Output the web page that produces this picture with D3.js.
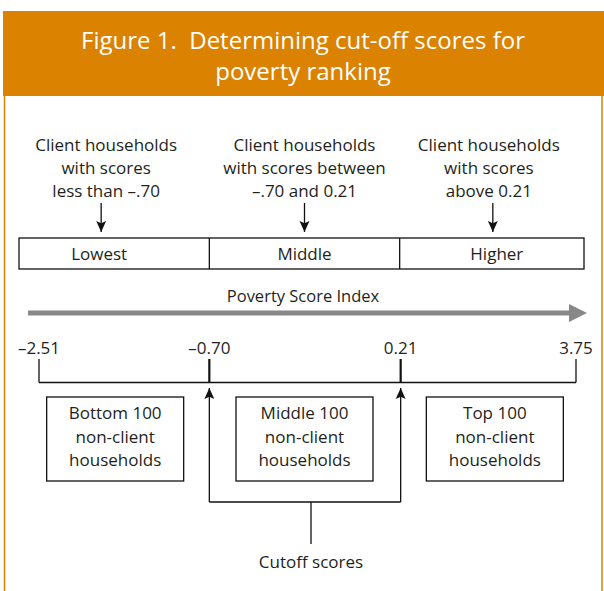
<!DOCTYPE html>
<html>
<head>
<meta charset="utf-8">
<script src="https://cdn.jsdelivr.net/npm/d3@7"></script>
<style>
  body { margin: 0; background: #fff; }
  svg text { font-family: "Open Sans", "Noto Sans", sans-serif; fill: #231f20; }
</style>
</head>
<body>
<div id="chart"></div>
<script>
// data
var titleLines = ["Figure 1.  Determining cut-off scores for", "poverty ranking"];
var categories = ["Lowest", "Middle", "Higher"];
var clientText = [
    ["Client households", "with scores", "less than \u2013.70"],
    ["Client households", "with scores between", "\u2013.70 and 0.21"],
    ["Client households", "with scores", "above 0.21"]
];
var cutoffs = [-2.51, -0.70, 0.21, 3.75];
var cutoffLabels = ["\u20132.51", "\u20130.70", "0.21", "3.75"];
var nonClientText = [
    ["Bottom 100", "non-client", "households"],
    ["Middle 100", "non-client", "households"],
    ["Top 100", "non-client", "households"]
];
var axisTitle = "Poverty Score Index";
var cutoffTitle = "Cutoff scores";

var width = 604, height = 591;
var orange = "#db8200";

var svg = d3.select("#chart")
    .append("svg")
    .attr("width", width)
    .attr("height", height);

// header band
svg.append("rect")
    .attr("x", 3).attr("y", 11)
    .attr("width", width - 3).attr("height", 85)
    .attr("fill", orange);

titleLines.forEach(function (t, i) {
    svg.append("text")
        .attr("x", 303)
        .attr("y", 49 + i * 31)
        .attr("text-anchor", "middle")
        .style("font-size", "24px")
        .style("white-space", "pre")
        .style("fill", "#fff")
        .text(t);
});

// frame sides
[4.5, 602].forEach(function (x) {
    svg.append("line")
        .attr("x1", x).attr("x2", x)
        .attr("y1", 96).attr("y2", height)
        .attr("stroke", orange)
        .attr("stroke-width", 1.5);
});

// band scale for the three groups
var band = d3.scaleBand()
    .domain(categories)
    .range([19, 590]);
function mid(c) { return band(c) + band.bandwidth() / 2; }

// score positions: ends inset, cutoffs on band borders
var x = d3.scaleLinear()
    .domain(cutoffs)
    .range([39, band("Middle"), band("Higher") + 1, 576]);

var defs = svg.append("defs");
defs.append("marker")
    .attr("id", "head")
    .attr("viewBox", "0 0 10 10")
    .attr("refX", 10).attr("refY", 5)
    .attr("markerWidth", 11).attr("markerHeight", 11)
    .attr("markerUnits", "userSpaceOnUse")
    .attr("orient", "auto")
    .append("path")
    .attr("d", "M0,0.5 L10,5 L0,9.5 L2,5 Z")
    .attr("fill", "#111");

// small nudges so the text sits where the original puts it
var textShift = [-8, 0, -6];
var arrowShift = [-13, 0, -2];

// client text + down arrows
categories.forEach(function (c, i) {
    clientText[i].forEach(function (t, j) {
        svg.append("text")
            .attr("x", mid(c) + textShift[i])
            .attr("y", 151 + j * 23)
            .attr("text-anchor", "middle")
            .style("font-size", "17px")
            .text(t);
    });
    svg.append("line")
        .attr("x1", mid(c) + arrowShift[i]).attr("x2", mid(c) + arrowShift[i])
        .attr("y1", 203).attr("y2", 232)
        .attr("stroke", "#111").attr("stroke-width", 1.3)
        .attr("marker-end", "url(#head)");
});

// category box
svg.append("rect")
    .attr("x", 19).attr("y", 238)
    .attr("width", 565).attr("height", 31)
    .attr("fill", "none").attr("stroke", "#111").attr("stroke-width", 1.3);

svg.selectAll(".divider")
    .data(categories.slice(1))
    .enter().append("line")
    .attr("x1", function (d) { return band(d); })
    .attr("x2", function (d) { return band(d); })
    .attr("y1", 238).attr("y2", 269)
    .attr("stroke", "#111").attr("stroke-width", 1.3);

svg.selectAll(".cat")
    .data(categories)
    .enter().append("text")
    .attr("x", function (d, i) { return mid(d) + [-15, 0, 2][i]; })
    .attr("y", 260)
    .attr("text-anchor", "middle")
    .style("font-size", "17px")
    .text(function (d) { return d; });

// poverty score index arrow
svg.append("text")
    .attr("x", 303).attr("y", 302)
    .attr("text-anchor", "middle")
    .style("font-size", "16.5px")
    .text(axisTitle);

svg.append("line")
    .attr("x1", 28).attr("x2", 571)
    .attr("y1", 313).attr("y2", 313)
    .attr("stroke", "#888").attr("stroke-width", 5);
svg.append("path")
    .attr("d", "M569,304 L587,313 L569,322 Z")
    .attr("fill", "#888");

// cutoff labels and bracket
svg.selectAll(".cut")
    .data(cutoffs)
    .enter().append("text")
    .attr("x", function (d) { return x(d); })
    .attr("y", 354)
    .attr("text-anchor", "middle")
    .style("font-size", "17px")
    .text(function (d, i) { return cutoffLabels[i]; });

svg.append("line")
    .attr("x1", x(cutoffs[0])).attr("x2", x(cutoffs[3]))
    .attr("y1", 382.5).attr("y2", 382.5)
    .attr("stroke", "#111").attr("stroke-width", 1.3);

svg.selectAll(".tick")
    .data(cutoffs)
    .enter().append("line")
    .attr("x1", function (d) { return x(d); })
    .attr("x2", function (d) { return x(d); })
    .attr("y1", 359).attr("y2", 382.5)
    .attr("stroke", "#111")
    .attr("stroke-width", function (d, i) { return (i == 0 || i == 3) ? 1.3 : 2.2; });

// non-client boxes
categories.forEach(function (c, i) {
    svg.append("rect")
        .attr("x", mid(c) - 68.5 + (i == 0 ? 1 : 0)).attr("y", 397)
        .attr("width", 137).attr("height", 84)
        .attr("fill", "none").attr("stroke", "#111").attr("stroke-width", 1.3);
    nonClientText[i].forEach(function (t, j) {
        svg.append("text")
            .attr("x", mid(c) + (i == 0 ? 1 : 0))
            .attr("y", 419 + j * 23.5)
            .attr("text-anchor", "middle")
            .style("font-size", "17px")
            .text(t);
    });
});

// cutoff arrows
var inner = cutoffs.slice(1, 3);
var cx = (x(inner[0]) + x(inner[1])) / 2 + 6;
inner.forEach(function (d) {
    svg.append("line")
        .attr("x1", x(d)).attr("x2", x(d))
        .attr("y1", 502).attr("y2", 388)
        .attr("stroke", "#111").attr("stroke-width", 1.3)
        .attr("marker-end", "url(#head)");
});
svg.append("line")
    .attr("x1", x(inner[0])).attr("x2", x(inner[1]))
    .attr("y1", 502).attr("y2", 502)
    .attr("stroke", "#111").attr("stroke-width", 1.3);
svg.append("line")
    .attr("x1", cx).attr("x2", cx)
    .attr("y1", 502).attr("y2", 544)
    .attr("stroke", "#111").attr("stroke-width", 1.3);
svg.append("text")
    .attr("x", cx).attr("y", 568)
    .attr("text-anchor", "middle")
    .style("font-size", "17px")
    .text(cutoffTitle);
</script>
</body>
</html>
